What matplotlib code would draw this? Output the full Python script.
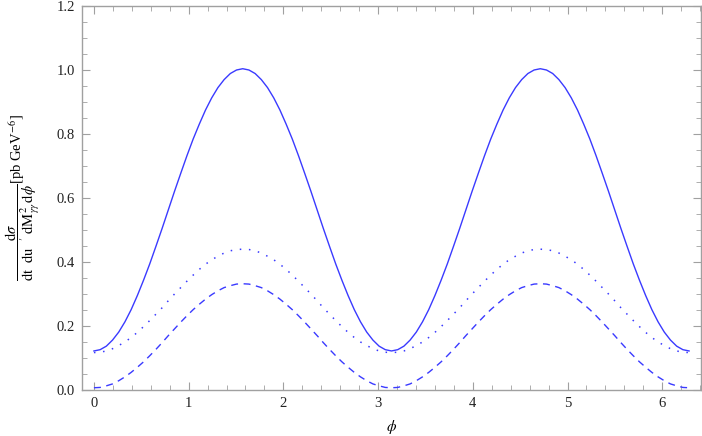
import numpy as np
import matplotlib
matplotlib.use("Agg")
import matplotlib.pyplot as plt
from matplotlib.ticker import MultipleLocator

plt.rcParams['font.family'] = ['Liberation Serif', 'DejaVu Serif']
plt.rcParams['mathtext.fontset'] = 'stix'

# phi sampled at k*pi/48, k = 0..96
phi_steps = 96
# values
solid = [0.122, 0.126, 0.137, 0.156, 0.181, 0.213, 0.251, 0.295, 0.343, 0.394, 0.449, 0.505, 0.563,
         0.621, 0.677, 0.732, 0.784, 0.831, 0.875, 0.913, 0.945, 0.970, 0.989, 1.000, 1.004,
         1.000, 0.989, 0.970, 0.945, 0.913, 0.875, 0.831, 0.784, 0.732, 0.677, 0.621,
         0.563, 0.505, 0.449, 0.394, 0.343, 0.295, 0.251, 0.213, 0.181, 0.156, 0.137, 0.126, 0.122,
         0.126, 0.137, 0.156, 0.181, 0.213, 0.251, 0.295, 0.343, 0.394, 0.449, 0.505, 0.563,
         0.621, 0.677, 0.732, 0.784, 0.831, 0.875, 0.913, 0.945, 0.970, 0.989, 1.000, 1.004,
         1.000, 0.989, 0.970, 0.945, 0.913, 0.875, 0.831, 0.784, 0.732, 0.677, 0.621,
         0.563, 0.505, 0.449, 0.394, 0.343, 0.295, 0.251, 0.213, 0.181, 0.156, 0.137, 0.126, 0.122]
dotted = [0.117, 0.118, 0.122, 0.129, 0.139, 0.150, 0.164, 0.180, 0.198, 0.217, 0.237, 0.257, 0.279,
          0.300, 0.320, 0.340, 0.359, 0.377, 0.393, 0.407, 0.418, 0.428, 0.435, 0.439, 0.440,
          0.439, 0.435, 0.428, 0.418, 0.407, 0.393, 0.377, 0.359, 0.340, 0.320, 0.300,
          0.279, 0.257, 0.237, 0.217, 0.198, 0.180, 0.164, 0.150, 0.139, 0.129, 0.122, 0.118, 0.117,
          0.118, 0.122, 0.129, 0.139, 0.150, 0.164, 0.180, 0.198, 0.217, 0.237, 0.257, 0.279,
          0.300, 0.320, 0.340, 0.359, 0.377, 0.393, 0.407, 0.418, 0.428, 0.435, 0.439, 0.440,
          0.439, 0.435, 0.428, 0.418, 0.407, 0.393, 0.377, 0.359, 0.340, 0.320, 0.300,
          0.279, 0.257, 0.237, 0.217, 0.198, 0.180, 0.164, 0.150, 0.139, 0.129, 0.122, 0.118, 0.117]
dashed = [0.007, 0.008, 0.013, 0.019, 0.029, 0.041, 0.055, 0.071, 0.088, 0.107, 0.127, 0.148, 0.170,
          0.191, 0.212, 0.232, 0.251, 0.268, 0.284, 0.298, 0.310, 0.320, 0.326, 0.331, 0.332,
          0.331, 0.326, 0.320, 0.310, 0.298, 0.284, 0.268, 0.251, 0.232, 0.212, 0.191,
          0.170, 0.148, 0.127, 0.107, 0.088, 0.071, 0.055, 0.041, 0.029, 0.019, 0.013, 0.008, 0.007,
          0.008, 0.013, 0.019, 0.029, 0.041, 0.055, 0.071, 0.088, 0.107, 0.127, 0.148, 0.170,
          0.191, 0.212, 0.232, 0.251, 0.268, 0.284, 0.298, 0.310, 0.320, 0.326, 0.331, 0.332,
          0.331, 0.326, 0.320, 0.310, 0.298, 0.284, 0.268, 0.251, 0.232, 0.212, 0.191,
          0.170, 0.148, 0.127, 0.107, 0.088, 0.071, 0.055, 0.041, 0.029, 0.019, 0.013, 0.008, 0.007]
phi = np.linspace(0, 2 * np.pi, phi_steps + 1)
yticks = [0.0, 0.2, 0.4, 0.6, 0.8, 1.0, 1.2]
ytick_labels = ['0.0', '0.2', '0.4', '0.6', '0.8', '1.0', '1.2']

fig = plt.figure(figsize=(7.02, 4.36), dpi=100)
ax = fig.add_axes([82 / 702, 46 / 436, 619 / 702, 384 / 436])

blue = '#3a3aff'
ax.plot(phi, solid, color=blue, lw=1.0, ls='-')
ax.plot(phi, dotted, color=blue, lw=1.1, ls=(0, (1, 5)))
ax.plot(phi, dashed, color=blue, lw=1.0, ls=(0, (5, 4)))

ax.set_xlim(-0.126, 6.409)
ax.set_ylim(0, 1.2)
ax.xaxis.set_major_locator(MultipleLocator(1))
ax.xaxis.set_minor_locator(MultipleLocator(0.2))
ax.set_yticks(yticks)
ax.set_yticklabels(ytick_labels)
ax.yaxis.set_minor_locator(MultipleLocator(0.05))

spine_c = '#a0a0a0'
for s in ax.spines.values():
    s.set_color(spine_c)
    s.set_linewidth(1.0)
ax.tick_params(which='both', direction='in', top=True, right=True, color=spine_c,
               labelsize=10.5, labelcolor='#222222')
ax.tick_params(which='major', length=6, width=0.8, pad=5)
ax.tick_params(which='minor', length=3.5, width=0.6)

ax.set_xlabel(r'$\phi$', fontsize=11, labelpad=6)
ylab = (r'$\dfrac{\mathrm{d}\sigma}{\mathrm{dt\ \ du\ \ '+"'"+r'\ dM}_{\gamma\gamma}^{2}\,\mathrm{d}\phi}$'
        r'[pb GeV$^{-6}$]')
fig.text(23 / 702, 1 - 198 / 436, ylab, rotation=90, ha='center', va='center', fontsize=10.5)

fig.savefig('out.png', dpi=100)
